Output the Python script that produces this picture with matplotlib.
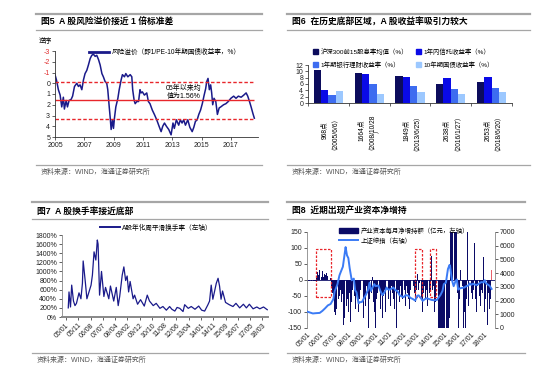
import numpy as np
import matplotlib
matplotlib.use("Agg")
import matplotlib.pyplot as plt
import matplotlib.transforms as mtransforms
from matplotlib.lines import Line2D
from matplotlib.patches import Rectangle, Patch

plt.rcParams['font.family'] = ['Liberation Sans', 'Noto Sans CJK SC']
plt.rcParams['axes.unicode_minus'] = False
plt.rcParams['font.size'] = 5

# ---------------- dados ----------------
# 图5 风险溢价（逆序）
rp_year = [2005.0, 2005.1, 2005.23, 2005.35, 2005.46, 2005.57, 2005.64, 2005.76, 2005.85, 2005.96,
           2006.1, 2006.2, 2006.33, 2006.49, 2006.6, 2006.71, 2006.83, 2006.94, 2007.05, 2007.17,
           2007.28, 2007.4, 2007.51, 2007.62, 2007.74, 2007.85, 2007.97, 2008.08, 2008.2, 2008.3,
           2008.42, 2008.53, 2008.6, 2008.7, 2008.76, 2008.83, 2008.92, 2008.99, 2009.06, 2009.15,
           2009.29, 2009.38, 2009.51, 2009.6, 2009.74, 2009.83, 2009.97, 2010.13, 2010.24, 2010.3,
           2010.4, 2010.47, 2010.58, 2010.7, 2010.8, 2010.87, 2010.96, 2011.1, 2011.26, 2011.37,
           2011.48, 2011.64, 2011.78, 2011.94, 2012.1, 2012.24, 2012.35, 2012.47, 2012.6, 2012.76,
           2012.92, 2013.05, 2013.14, 2013.28, 2013.44, 2013.55, 2013.67, 2013.78, 2013.9, 2014.06,
           2014.2, 2014.36, 2014.47, 2014.58, 2014.7, 2014.81, 2014.93, 2015.05, 2015.16, 2015.28,
           2015.35, 2015.44, 2015.53, 2015.62, 2015.69, 2015.76, 2015.85, 2015.97, 2016.08, 2016.2,
           2016.31, 2016.5, 2016.66, 2016.82, 2017.0, 2017.19, 2017.35, 2017.51, 2017.7, 2017.88,
           2018.04, 2018.15, 2018.27, 2018.38, 2018.5, 2018.6]
rp_value = [-0.8, -0.3, 0.6, 1.1, 2.2, 1.3, 2.4, 1.6, 2.2, 1.6,
            1.5, 1.2, 0.3, 0.0, 0.3, 0.15, 0.6, -0.3, -0.9, -1.2,
            -1.7, -2.3, -2.6, -2.7, -2.5, -2.6, -2.2, -1.7, -0.9, -0.6,
            -0.15, 0.0, 0.6, 2.2, 3.1, 4.3, 3.4, 4.2, 3.2, 2.2,
            1.4, 0.6, -0.3, -0.8, -0.6, -0.9, -0.6, -0.8, -0.6, 0.6,
            1.6, 1.9, 1.7, 1.7, 0.6, 0.9, 0.8, 1.1, 0.9, 1.7,
            1.9, 2.5, 2.9, 3.4, 4.0, 4.5, 4.0, 3.7, 4.0, 4.3,
            4.8, 3.7, 4.2, 3.4, 3.9, 3.4, 3.7, 3.4, 3.9, 3.4,
            4.1, 4.5, 4.1, 3.55, 3.4, 2.9, 2.5, 1.9, 1.2, 0.5,
            -0.15, -0.45, 0.6, 0.15, 0.9, 2.0, 1.4, 1.7, 2.9, 2.3,
            2.2, 2.0, 1.9, 1.7, 1.4, 1.2, 1.4, 1.2, 1.3, 1.1,
            0.9, 1.2, 1.7, 2.2, 2.8, 3.25]
rp_mean = 1.56
rp_std = 1.72
rp_ticks = [-3, -2, -1, 0, 1, 2, 3, 4, 5]
rp_years_lbl = [2005, 2007, 2009, 2011, 2013, 2015, 2017]

# 图6 收益率对比
grupos = ["968点\n（2005/6/6）", "1664点\n（2008/10/28\n）", "1849点\n（2013/6/25）",
          "2638点\n（2016/1/27）", "2653点\n（2018/6/20）"]
dividendo = [10.5, 9.6, 8.5, 6.1, 6.5]
fiducia = [4.1, 9.1, 8.2, 8.0, 8.1]
banco = [2.6, 6.1, 5.4, 4.3, 4.8]
tesouro = [3.7, 3.0, 3.5, 2.9, 3.5]
nomes6 = ["沪深300前15股息率均值（%）", "1年内信托收益率（%）",
          "1年期银行理财收益率（%）", "10年期国债收益率（%）"]
cores6 = ['#0c0c5c', '#0a0ae6', '#3d6cf0', '#9cc8ff']

# 图7 换手率
to_year = [2005.15, 2005.2, 2005.3, 2005.38, 2005.5, 2005.6, 2005.7, 2005.87, 2006.0, 2006.1,
           2006.15, 2006.3, 2006.4, 2006.55, 2006.68, 2006.77, 2006.88, 2007.0, 2007.1, 2007.15,
           2007.25, 2007.38, 2007.54, 2007.65, 2007.87, 2007.98, 2008.2, 2008.37, 2008.5, 2008.6,
           2008.77, 2008.88, 2009.0, 2009.1, 2009.2, 2009.3, 2009.5, 2009.6, 2009.8, 2010.0,
           2010.25, 2010.45, 2010.6, 2010.85, 2011.05, 2011.3, 2011.5, 2011.73, 2011.95, 2012.1,
           2012.3, 2012.45, 2012.63, 2012.85, 2012.96, 2013.2, 2013.4, 2013.65, 2013.9, 2014.1,
           2014.3, 2014.52, 2014.63, 2014.74, 2014.85, 2014.97, 2015.08, 2015.2, 2015.3, 2015.4,
           2015.5, 2015.7, 2015.95, 2016.2, 2016.4, 2016.65, 2016.9, 2017.1, 2017.3, 2017.55,
           2017.8, 2018.0, 2018.25, 2018.5]
to_value = [200, 550, 220, 700, 350, 250, 300, 530, 400, 740,
            1230, 750, 400, 560, 700, 920, 1430, 1250, 1690, 1600,
            480, 1000, 450, 650, 400, 680, 350, 650, 250, 450,
            920, 1100, 800, 900, 550, 780, 400, 480, 280, 380,
            240, 480, 350, 250, 300, 190, 230, 150, 230, 170,
            130, 210, 190, 120, 270, 190, 230, 170, 240, 150,
            130, 270, 350, 700, 390, 570, 740, 850, 680, 390,
            570, 320, 270, 230, 300, 200, 280, 200, 280, 180,
            220, 180, 220, 160]
to_ticks_lbl = ["05/01", "05/11", "06/08", "07/07", "08/04", "09/02", "09/12", "10/10", "11/08",
                "12/06", "13/04", "14/01", "14/11", "15/09", "16/07", "17/05", "18/03"]
to_yticks = [0, 200, 400, 600, 800, 1000, 1200, 1400, 1600, 1800]

# 图8 产业资本净增持（亿元，月度 2005/01-2018/07）
ih_value = [-2, -3, -2, -1, -3, -2, -3, -2, 5, 25, 15, 30,
            10, 28, 8, 20, 15, 22, 12, 18, 5, -20, -40, -60,
            -100, -110, -90, -60, -50, -30, -70, -45, -140, -120, -80, -60,
            -100, -40, -130, -70, -30, -50, -90, -40, -60, -100, -60, -30,
            -70, -120, -50, -80, -20, -40, -150, -60, -40, 10, -70, -100,
            -150, -60, -40, -30, -90, -40, -120, -50, -30, -100, -20, -60,
            -30, -80, -20, -40, -60, -90, -150, -40, -30, -70, -20, -50,
            -60, -30, -80, -20, -40, -60, -90, -30, -50, -20, -40, -70,
            -30, 20, -30, -10, -60, -100, -40, -20, -60, -30, -80, -40,
            -30, 75, -30, -20, -100, -70, -120, -150, -150, -150, -150, -150,
            -150, -150, -150, -150, -150, -120, 160, 170, 150, 180, 160, 150,
            -40, -150, -60, 30, -20, -150, -100, -150, -60, 150, -80, -120,
            -40, -60, -30, 117, -60, -100, -20, -50, -80, -30, -40, 72,
            -100, -60, -140, -40, -90, -60, 30]
sse_year = [2005.0, 2005.4, 2005.6, 2005.9, 2006.1, 2006.3, 2006.5, 2006.7, 2006.9, 2007.0,
            2007.2, 2007.35, 2007.45, 2007.6, 2007.75, 2007.8, 2007.9, 2008.0, 2008.1, 2008.25,
            2008.4, 2008.5, 2008.6, 2008.75, 2008.85, 2009.0, 2009.15, 2009.3, 2009.45, 2009.55,
            2009.65, 2009.8, 2009.9, 2010.0, 2010.2, 2010.35, 2010.5, 2010.65, 2010.8, 2010.9,
            2011.05, 2011.3, 2011.45, 2011.6, 2011.75, 2011.9, 2012.05, 2012.2, 2012.4, 2012.55,
            2012.75, 2012.9, 2013.05, 2013.15, 2013.3, 2013.45, 2013.6, 2013.75, 2013.95, 2014.1,
            2014.3, 2014.5, 2014.6, 2014.75, 2014.9, 2015.0, 2015.15, 2015.3, 2015.42, 2015.46,
            2015.55, 2015.62, 2015.72, 2015.85, 2015.95, 2016.05, 2016.2, 2016.35, 2016.5, 2016.65,
            2016.8, 2016.9, 2017.0, 2017.15, 2017.3, 2017.45, 2017.6, 2017.75, 2017.9, 2018.0,
            2018.1, 2018.25, 2018.35, 2018.5]
sse_value = [1190, 1060, 1080, 1100, 1250, 1440, 1650, 1750, 2100, 2680,
             3180, 3840, 4100, 4470, 5550, 5900, 5300, 5100, 4350, 3480,
             3600, 2750, 2600, 1800, 1880, 1900, 2180, 2450, 2800, 3300,
             2700, 3000, 3200, 3050, 3100, 2700, 2400, 2600, 2950, 2820,
             2800, 2950, 2750, 2700, 2400, 2300, 2250, 2400, 2350, 2200,
             2100, 2000, 2350, 2380, 2200, 1980, 2100, 2170, 2100, 2050,
             2020, 2050, 2200, 2400, 2700, 3200, 3300, 4300, 4600, 4500,
             3800, 3400, 3050, 3400, 3540, 2800, 2900, 2930, 2950, 3050,
             3100, 3250, 3150, 3230, 3150, 3150, 3250, 3350, 3320, 3480,
             3250, 3150, 3080, 2850]
ih_boxes = [(2005.65, 2006.7), (2012.9, 2013.4), (2014.0, 2014.45)]
ih_years_lbl = ["05/01", "06/01", "07/01", "08/01", "09/01", "10/01", "11/01",
                "12/01", "13/01", "14/01", "15/01", "16/01", "17/01", "18/01"]

fonte = "资料来源：WIND，海通证券研究所"

# ---------------- figura ----------------
W, H = 550, 387
fig = plt.figure(figsize=(5.5, 3.87), dpi=100)
cinza = '#a6a6a6'
azul_esc = '#1a1a8a'


def caixa(x0, y0, x1, y1):
    return [x0 / W, 1 - y1 / H, (x1 - x0) / W, (y1 - y0) / H]


def regua(x0, x1, y, lw):
    fig.add_artist(Line2D([x0 / W, x1 / W], [1 - y / H, 1 - y / H], color=cinza, lw=lw))


def cabecalho(x0, x1, y_top, y_tit, y_sub, y_src, titulo):
    regua(x0, x1, y_top, 1.6)
    regua(x0, x1, y_sub, 0.9)
    regua(x0, x1, y_src, 0.9)
    fig.text((x0 + 5) / W, 1 - y_tit / H, titulo, fontsize=6.3, fontweight='bold', va='center')
    fig.text((x0 + 5) / W, 1 - (y_src + 7.5) / H, fonte, fontsize=5, color='#555555', va='center')


cabecalho(36, 262, 14, 22, 29.5, 165, "图5  A 股风险溢价接近 1 倍标准差")
cabecalho(287, 530, 14, 22, 29.5, 165, "图6  在历史底部区域，A 股收益率吸引力较大")
cabecalho(32, 268, 202, 211, 219, 353, "图7  A 股换手率接近底部")
cabecalho(287, 525, 202, 211, 219, 353, "图8  近期出现产业资本净增持")


def estilo(ax, cor='#333333'):
    for lado in ['top', 'right']:
        ax.spines[lado].set_visible(False)
    for lado in ['left', 'bottom']:
        ax.spines[lado].set_linewidth(0.6)
        ax.spines[lado].set_color(cor)
    ax.tick_params(axis='both', length=2, width=0.5, pad=1.5, labelsize=5, colors='#222222')


# ---- 图5 ----
ax1 = fig.add_axes(caixa(55, 51, 258, 137))
estilo(ax1)
ax1.plot(rp_year, rp_value, color=azul_esc, lw=1.1)
ax1.hlines(rp_mean, rp_year[0], rp_year[-1], color='#e8262b', lw=1.0)
ax1.hlines([rp_mean - rp_std, rp_mean + rp_std], rp_year[0], rp_year[-1],
           color='#e8262b', lw=1.0, linestyles=(0, (2.5, 1.5)))
ax1.set_xlim(2005, 2018.85)
ax1.set_ylim(5, -3)
ax1.set_xticks(rp_years_lbl, [str(a) for a in rp_years_lbl])
ax1.set_yticks(rp_ticks, [str(v) for v in rp_ticks])
for rot, v in zip(ax1.get_yticklabels(), rp_ticks):
    rot.set_color('#e03030' if v < 0 else '#222222')
ax1.legend([Line2D([], [], color=azul_esc, lw=2)], ["风险溢价（即1/PE-10年期国债收益率，%）"],
           loc='center left', bbox_to_anchor=(86 / W, 1 - 52.5 / H), bbox_transform=fig.transFigure,
           frameon=False, fontsize=4.8, handlelength=3.0, handletextpad=0.4, borderpad=0)
fig.text(39 / W, 1 - 42 / H, "逆序", fontsize=4.8, va='center')
ax1.text(2013.75, 0.85, "05年以来均\n值为1.56%", fontsize=5, ha='center', va='center',
         linespacing=1.35)

# ---- 图6 ----
ax2 = fig.add_axes(caixa(308, 65, 512, 103))
estilo(ax2)
xg = np.arange(len(grupos))
larg = 0.18
for i, (vals, cor) in enumerate(zip([dividendo, fiducia, banco, tesouro], cores6)):
    ax2.bar(xg + (i - 1.5) * larg, vals, width=larg, color=cor, edgecolor='none')
ax2.set_xlim(-0.5, len(grupos) - 0.5)
ax2.set_ylim(0, 12)
ax2.set_yticks(range(0, 13, 2))
ax2.set_xticks(np.arange(-0.5, len(grupos), 1.0), [''] * (len(grupos) + 1))
ax2.tick_params(axis='x', length=2.5)
trans6 = mtransforms.blended_transform_factory(ax2.transData, fig.transFigure)
for i, g in enumerate(grupos):
    ax2.text(i, 1 - 130 / H, g, transform=trans6, rotation=90, ha='center', va='center',
             multialignment='center', fontsize=4.8, linespacing=1.25)
ordem = [0, 2, 1, 3]
ax2.legend([Patch(color=cores6[k]) for k in ordem], [nomes6[k] for k in ordem], ncol=2,
           loc='upper left', bbox_to_anchor=(310 / W, 1 - 44.5 / H), bbox_transform=fig.transFigure,
           frameon=False, fontsize=4.6, handlelength=0.8, handleheight=0.8, handletextpad=0.4,
           columnspacing=1.2, labelspacing=1.0, borderpad=0)

# ---- 图7 ----
ax3 = fig.add_axes(caixa(62, 235, 268, 317))
estilo(ax3, '#888888')
ax3.spines['bottom'].set_linewidth(1.4)
ax3.plot(to_year, to_value, color=azul_esc, lw=0.9)
ax3.set_xlim(2004.73, 2018.55)
ax3.set_ylim(0, 1800)
ax3.set_yticks(to_yticks, [f"{v}%" for v in to_yticks])
pos7 = np.linspace(2005.0, 2018.17, len(to_ticks_lbl))
ax3.set_xticks(pos7, to_ticks_lbl, rotation=45, ha='right', rotation_mode='anchor')
ax3.legend([Line2D([], [], color=azul_esc, lw=1.4)], ["A股年化周平滑换手率（左轴）"],
           loc='center left', bbox_to_anchor=(97 / W, 1 - 228 / H), bbox_transform=fig.transFigure,
           frameon=False, fontsize=4.8, handlelength=3.0, handletextpad=0.3, borderpad=0)

# ---- 图8 ----
ax4 = fig.add_axes(caixa(307, 232, 495, 328))
estilo(ax4, '#888888')
ax4.spines['bottom'].set_visible(False)
ih_year = 2005 + np.arange(len(ih_value)) / 12
cores_ih = ['#0b0b66'] * (len(ih_value) - 1) + ['#e8606a']
ax4.bar(ih_year, ih_value, width=0.07, color=cores_ih, edgecolor='none')
ax4.axhline(0, color='#0b0b66', lw=0.6)
for a, b in ih_boxes:
    ax4.add_patch(Rectangle((a, -52), b - a, 150, fill=False, edgecolor='#e8262b', lw=0.9,
                            ls=(0, (2, 1.2))))
ax4.set_xlim(2004.97, 2018.75)
ax4.set_ylim(-150, 150)
ax4.set_yticks(range(-150, 151, 50))
ax4.set_xticks(np.arange(2005, 2019), ih_years_lbl, rotation=45, ha='right', rotation_mode='anchor')
ax4.tick_params(axis='x', length=0, pad=2)
ax4r = ax4.twinx()
ax4r.plot(sse_year, sse_value, color='#3b7bf5', lw=1.4)
ax4r.set_ylim(0, 7000)
ax4r.set_yticks(range(0, 7001, 1000))
for lado in ['top', 'left', 'bottom']:
    ax4r.spines[lado].set_visible(False)
ax4r.spines['right'].set_color('#888888')
ax4r.spines['right'].set_linewidth(0.6)
ax4r.tick_params(axis='y', length=2, width=0.5, pad=1.5, labelsize=5, colors='#222222')
ax4r.legend([Patch(color='#0b0b66'), Line2D([], [], color='#3b7bf5', lw=1.4)],
            ["产业资本每月净增持额（亿元，左轴）", "上证综指（右轴）"],
            loc='upper left', bbox_to_anchor=(336 / W, 1 - 224 / H), bbox_transform=fig.transFigure,
            frameon=False, fontsize=4.6, handlelength=3.0, handleheight=0.9, handletextpad=0.4,
            labelspacing=0.5, borderpad=0)

fig.savefig("out.png", dpi=100)
